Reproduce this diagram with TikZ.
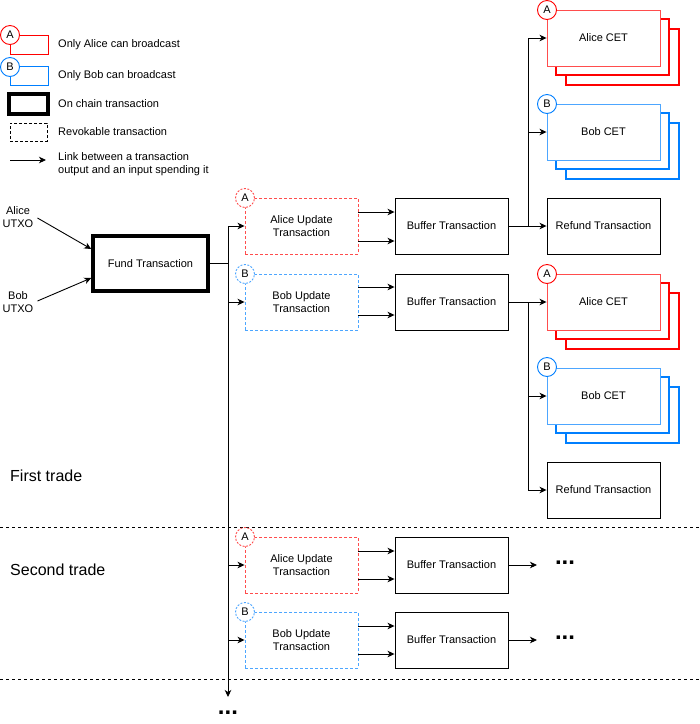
\documentclass[tikz,border=0pt]{standalone}
\usepackage{fontspec}
\setmainfont{Liberation Sans}
\usetikzlibrary{arrows.meta}
\definecolor{aliceRed}{HTML}{FF4D4D}
\definecolor{aliceRedDark}{HTML}{FF0000}
\definecolor{bobBlue}{HTML}{4DA6FF}
\definecolor{bobBlueDark}{HTML}{007FFF}
\tikzset{
  f11/.style={font=\fontsize{11}{13}\selectfont},
  tx/.style={draw, line width=0.9pt, fill=white, minimum width=113pt, minimum height=56pt, align=center, inner sep=0pt, f11},
  thick tx/.style={tx, line width=3.5pt, minimum width=115pt, minimum height=55pt},
  revred/.style={tx, draw=aliceRed, dashed, dash pattern=on 3pt off 2pt},
  revblue/.style={tx, draw=bobBlue, dashed, dash pattern=on 3pt off 2pt},
  cetred/.style={tx, draw=aliceRed},
  cetblue/.style={tx, draw=bobBlue},
  backred/.style={draw=aliceRedDark, fill=white, line width=1.1pt},
  backblue/.style={draw=bobBlueDark, fill=white, line width=1.1pt},
  circ/.style={circle, draw, line width=0.9pt, fill=white, minimum size=19pt, inner sep=0pt, f11},
  circd/.style={circ, dashed, dash pattern=on 2pt off 1.5pt},
  lbl/.style={align=left, anchor=west, f11, inner sep=0pt},
  clbl/.style={align=center, f11, inner sep=1pt},
  arr/.style={-{Stealth[length=7pt,width=6.5pt,inset=2pt]}, line width=0.9pt},
  ln/.style={line width=0.9pt},
  sep/.style={dashed, dash pattern=on 3pt off 3pt, line width=0.9pt},
  trade/.style={anchor=west, font=\fontsize{16}{19}\selectfont, inner sep=0pt},
  dots/.style={font=\fontsize{24}{28}\selectfont\bfseries, inner sep=0pt}
}
\begin{document}
\begin{tikzpicture}[x=1pt,y=-1pt]
\useasboundingbox (0,0) rectangle (700,724);

% ---------- legend ----------
\node[tx, draw=aliceRedDark, minimum width=38pt, minimum height=19pt] (lga) at (29,44.5) {};
\node[circ, draw=aliceRedDark] (lgca) at (10,35) {A};
\node[lbl] (lgta) at (58,44.5) {Only Alice can broadcast};
\node[tx, draw=bobBlueDark, minimum width=38pt, minimum height=19pt] (lgb) at (29,76) {};
\node[circ, draw=bobBlueDark] (lgcb) at (10,67) {B};
\node[lbl] (lgtb) at (58,76) {Only Bob can broadcast};
\node[tx, line width=4pt, minimum width=39pt, minimum height=20pt] (lgc) at (28.5,103.5) {};
\node[lbl] (lgtc) at (58,104) {On chain transaction};
\node[tx, dashed, dash pattern=on 3pt off 2pt, minimum width=37pt, minimum height=18pt] (lgd) at (28.5,132) {};
\node[lbl] (lgtd) at (58,132) {Revokable transaction};
\coordinate (lge0) at (10,160);
\coordinate (lge1) at (46,160);
\draw[arr] (lge0) -- (lge1);
\node[lbl] (lgte) at (58,164.5) {Link between a transaction\\output and an input spending it};

% ---------- fund ----------
\node[clbl] (autxo) at (18,217) {Alice\\UTXO};
\node[clbl] (butxo) at (18,302) {Bob\\UTXO};
\node[thick tx] (fund) at (150.5,263.5) {Fund Transaction};
\draw[arr] ([xshift=3pt,yshift=-1pt]autxo.east) -- ([yshift=14.5pt]fund.west);
\draw[arr] ([xshift=3pt,yshift=1pt]butxo.east) -- ([yshift=-14.5pt]fund.west);

% trunk
\coordinate (ttop) at (228,226);
\coordinate (tend) at (228,697);
\draw[ln] (fund.east) -- (fund.east -| ttop);
\draw[arr] (ttop) -- (tend);
\node[dots] (tdots) at (228,713) {...};

% ---------- first trade ----------
\node[revred] (au1) at (301.5,226) {Alice Update\\Transaction};
\node[circd, draw=aliceRed] (au1c) at (245,198) {A};
\node[revblue] (bu1) at (301.5,302) {Bob Update\\Transaction};
\node[circd, draw=bobBlue] (bu1c) at (245,274) {B};
\draw[arr] (ttop) -- (au1.west);
\draw[arr] (bu1.west -| ttop) -- (bu1.west);

\node[tx] (buf1) at (451.5,226) {Buffer Transaction};
\node[tx] (buf2) at (451.5,302) {Buffer Transaction};
\draw[arr] ([yshift=14pt]au1.east) -- ([yshift=14pt]buf1.west);
\draw[arr] ([yshift=-15pt]au1.east) -- ([yshift=-15pt]buf1.west);
\draw[arr] ([yshift=15pt]bu1.east) -- ([yshift=15pt]buf2.west);
\draw[arr] ([yshift=-13pt]bu1.east) -- ([yshift=-13pt]buf2.west);

% CETs group 1
\path[backred] (566,29) rectangle (679,85);
\path[backred] (556,19) rectangle (669,75);
\node[cetred] (acOne) at (603.5,38) {Alice CET};
\node[circ, draw=aliceRedDark] (acOneK) at (547,10) {A};
\path[backblue] (566,123) rectangle (679,179);
\path[backblue] (556,113) rectangle (669,169);
\node[cetblue] (bcOne) at (603.5,132) {Bob CET};
\node[circ, draw=bobBlueDark] (bcOneK) at (547,104) {B};
\node[tx] (rf1) at (603.5,226) {Refund Transaction};
\coordinate (br1) at (528,226);
\draw[arr] (buf1.east) -- (rf1.west);
\draw[arr] (br1) |- (acOne.west);
\draw[arr] (br1 |- bcOne.west) -- (bcOne.west);

% CETs group 2
\path[backred] (566,293) rectangle (679,349);
\path[backred] (556,283) rectangle (669,339);
\node[cetred] (acTwo) at (603.5,302) {Alice CET};
\node[circ, draw=aliceRedDark] (acTwoK) at (547,274) {A};
\path[backblue] (566,387) rectangle (679,443);
\path[backblue] (556,377) rectangle (669,433);
\node[cetblue] (bcTwo) at (603.5,396) {Bob CET};
\node[circ, draw=bobBlueDark] (bcTwoK) at (547,367) {B};
\node[tx] (rf2) at (603.5,490) {Refund Transaction};
\coordinate (br2) at (528,302);
\draw[arr] (buf2.east) -- (acTwo.west);
\draw[arr] (br2) |- (rf2.west);
\draw[arr] (br2 |- bcTwo.west) -- (bcTwo.west);

\node[trade] (ft) at (10,476) {First trade};

% separators
\coordinate (s1a) at (0,527);
\coordinate (s1b) at (700,527);
\coordinate (s2a) at (0,679);
\coordinate (s2b) at (700,679);
\draw[sep] (s1a) -- (s1b);
\draw[sep] (s2a) -- (s2b);

% ---------- second trade ----------
\node[trade] (st) at (10,570) {Second trade};
\node[revred] (au3) at (301.5,565) {Alice Update\\Transaction};
\node[circd, draw=aliceRed] (au3c) at (245,537) {A};
\node[revblue] (bu3) at (301.5,640) {Bob Update\\Transaction};
\node[circd, draw=bobBlue] (bu3c) at (245,612) {B};
\draw[arr] (au3.west -| ttop) -- (au3.west);
\draw[arr] (bu3.west -| ttop) -- (bu3.west);
\node[tx] (buf3) at (451.5,565) {Buffer Transaction};
\node[tx] (buf4) at (451.5,640) {Buffer Transaction};
\draw[arr] ([yshift=14pt]au3.east) -- ([yshift=14pt]buf3.west);
\draw[arr] ([yshift=-14pt]au3.east) -- ([yshift=-14pt]buf3.west);
\draw[arr] ([yshift=14pt]bu3.east) -- ([yshift=14pt]buf4.west);
\draw[arr] ([yshift=-14pt]bu3.east) -- ([yshift=-14pt]buf4.west);
\node[dots] (d3) at (565,563) {...};
\node[dots] (d4) at (565,638) {...};
\coordinate (d3a) at (537,565);
\coordinate (d4a) at (537,640);
\draw[arr] (buf3.east) -- (d3a);
\draw[arr] (buf4.east) -- (d4a);
\end{tikzpicture}
\end{document}
